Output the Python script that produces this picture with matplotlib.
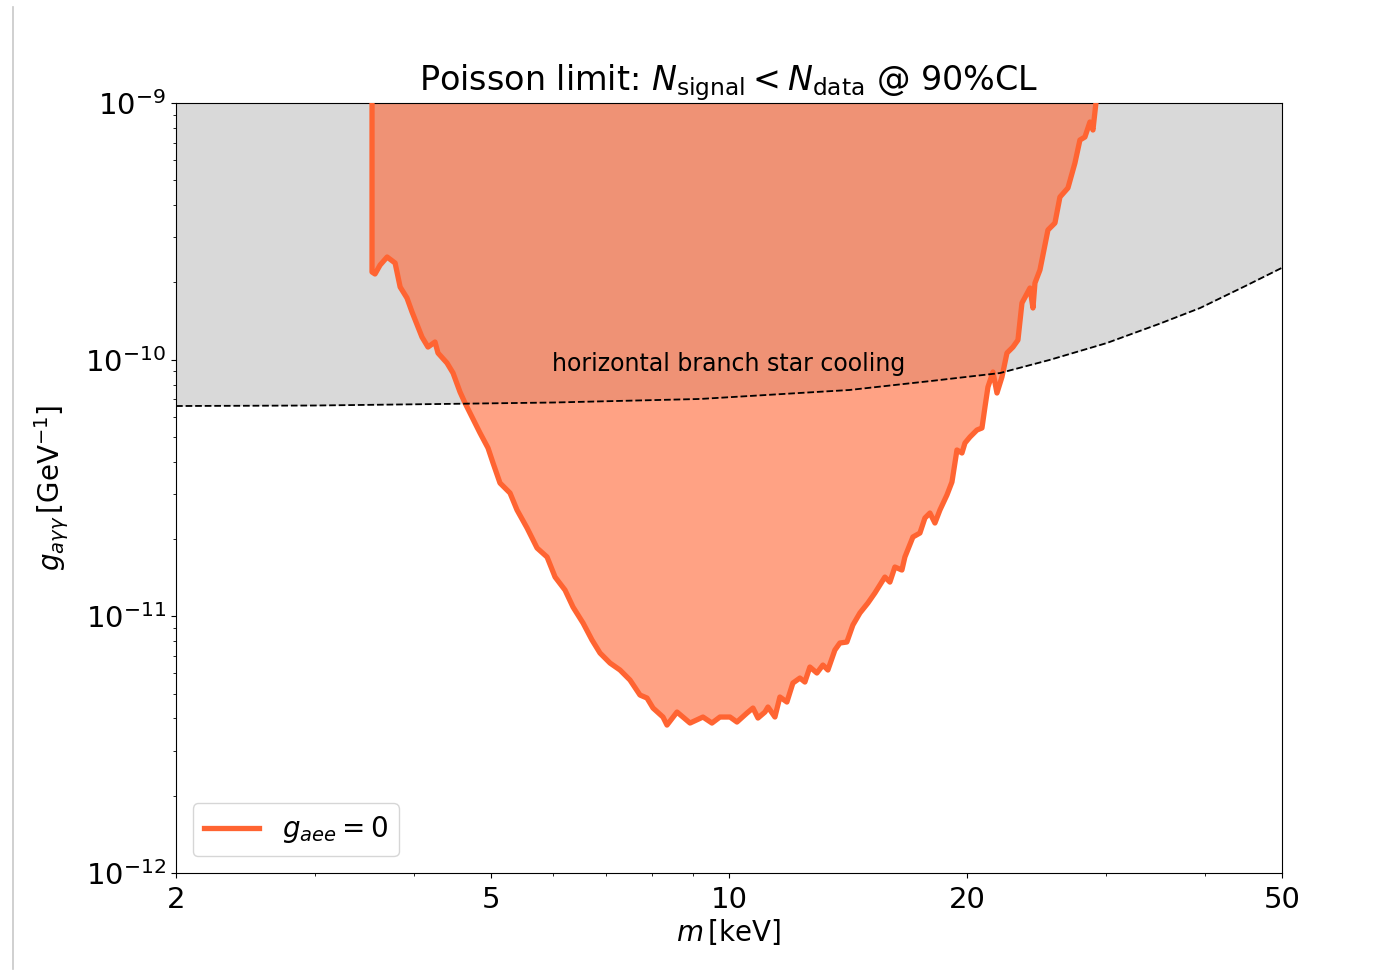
import matplotlib
matplotlib.use("Agg")
import matplotlib.pyplot as plt
from matplotlib.ticker import FixedLocator, FixedFormatter, NullFormatter
from matplotlib.lines import Line2D
import numpy as np

# excluded region for g_aee = 0 (mass in keV, coupling in units of 1e-11 GeV^-1)
limit_mass = [
    3.538, 3.538, 3.569, 3.622, 3.697, 3.784, 3.840, 3.917, 3.975, 4.092,
    4.164, 4.250, 4.287, 4.401, 4.479, 4.571, 4.638, 4.706, 4.845, 4.959,
    5.032, 5.135, 5.287, 5.396, 5.556, 5.720, 5.889, 6.028, 6.205, 6.351,
    6.539, 6.712, 6.870, 7.073, 7.282, 7.497, 7.718, 7.877, 8.016, 8.252,
    8.349, 8.596, 8.928, 9.270, 9.516, 9.740, 10.029, 10.235, 10.537, 10.723,
    10.880, 11.104, 11.201, 11.430, 11.597, 11.836, 12.044, 12.292, 12.472, 12.655,
    12.916, 13.143, 13.336, 13.610, 13.809, 14.093, 14.342, 14.637, 14.982, 15.290,
    15.742, 15.973, 16.207, 16.541, 16.686, 17.080, 17.432, 17.687, 17.947, 18.210,
    18.477, 18.858, 19.135, 19.416, 19.701, 19.874, 20.165, 20.580, 20.882, 21.065,
    21.249, 21.561, 21.814, 22.133, 22.458, 22.853, 23.188, 23.460, 24.013, 24.223,
    24.365, 24.721, 25.303, 25.824, 26.202, 26.819, 27.371, 27.772, 28.179, 28.593,
    28.844, 29.096,
]
limit_g = [
    100.0, 21.96, 21.57, 23.37, 25.12, 23.80, 19.19, 17.39, 15.34, 12.25,
    11.20, 11.72, 10.62, 9.706, 8.874, 7.482, 6.779, 6.197, 5.180, 4.528,
    3.958, 3.307, 3.024, 2.596, 2.209, 1.846, 1.703, 1.423, 1.266, 1.087,
    0.942, 0.8087, 0.7197, 0.6579, 0.6179, 0.5648, 0.4937, 0.4806, 0.4394, 0.4053,
    0.3771, 0.4239, 0.3840, 0.4053, 0.3840, 0.4053, 0.4053, 0.3875, 0.4201, 0.4394,
    0.4017, 0.4239, 0.4434, 0.4053, 0.4850, 0.4637, 0.5498, 0.5750, 0.5548, 0.6347,
    0.6015, 0.6462, 0.6179, 0.7393, 0.7873, 0.7943, 0.9252, 1.0303, 1.127, 1.233,
    1.423, 1.360, 1.557, 1.515, 1.703, 2.038, 2.112, 2.416, 2.527, 2.310,
    2.596, 2.970, 3.337, 4.448, 4.330, 4.736, 4.998, 5.322, 5.418, 6.540,
    7.826, 8.954, 7.416, 8.561, 10.62, 11.20, 11.93, 16.63, 19.02, 15.90,
    19.89, 22.36, 32.01, 34.08, 43.03, 46.66, 58.38, 71.76, 73.72, 84.34,
    78.50, 100.0,
]

# horizontal branch star cooling bound
hb_mass = [2, 3, 4.31, 6, 9.19, 14.2, 18, 22, 25.4, 30, 35, 39.4, 45, 50]
hb_g = [6.60, 6.63, 6.72, 6.81, 7.03, 7.62, 8.26, 8.87, 9.97, 11.6, 13.8, 15.9, 19.4, 22.8]

x_ticks = [2, 5, 10, 20, 50]
x_tick_labels = ["2", "5", "10", "20", "50"]

g_top = 1e-9
limit_mass = np.array(limit_mass)
limit_g = np.array(limit_g) * 1e-11
hb_mass = np.array(hb_mass)
hb_g = np.array(hb_g) * 1e-11

line_color = "#ff6432"
fs = 21

fig = plt.figure(figsize=(13.96, 9.71), dpi=100)
ax = fig.add_axes([0.1261, 0.1009, 0.7922, 0.7930])

ax.fill_between(hb_mass, hb_g, g_top, color="#d9d9d9", lw=0, zorder=1)
ax.plot(hb_mass, hb_g, ls="--", color="k", lw=1.3, zorder=4)
ax.fill_between(limit_mass, limit_g, g_top, color=line_color, alpha=0.6, lw=0, zorder=2)
ax.plot(limit_mass, limit_g, color=line_color, lw=3.8, zorder=3)

ax.text(10, 9.6e-11, "horizontal branch star cooling", ha="center", va="center",
        fontsize=17, zorder=5)

ax.set_xscale("log")
ax.set_yscale("log")
ax.set_xlim(2, 50)
ax.set_ylim(1e-12, 1e-9)
ax.xaxis.set_major_locator(FixedLocator(x_ticks))
ax.xaxis.set_major_formatter(FixedFormatter(x_tick_labels))
ax.xaxis.set_minor_formatter(NullFormatter())
ax.tick_params(labelsize=fs)
ax.tick_params(axis="x", pad=6)

ax.set_title(r"Poisson limit: $N_{\rm signal} < N_{\rm data}$ @ 90%CL", fontsize=24, pad=6)
ax.set_xlabel(r"$m\,[\mathrm{keV}]$", fontsize=20, labelpad=2)
ax.set_ylabel(r"$g_{a\gamma\gamma}\,[\mathrm{GeV}^{-1}]$", fontsize=20, labelpad=10)

handle = Line2D([], [], color=line_color, lw=3.8)
ax.legend([handle], [r"$g_{aee} = 0$"], loc="lower left", fontsize=20,
          borderaxespad=0.6)

# thin frame line on the left edge of the canvas
fig.add_artist(Line2D([13 / 1396, 13 / 1396], [2 / 971, 1 - 7 / 971], color="#c8c8c8", lw=1.2))

fig.savefig("out.png", dpi=100)
